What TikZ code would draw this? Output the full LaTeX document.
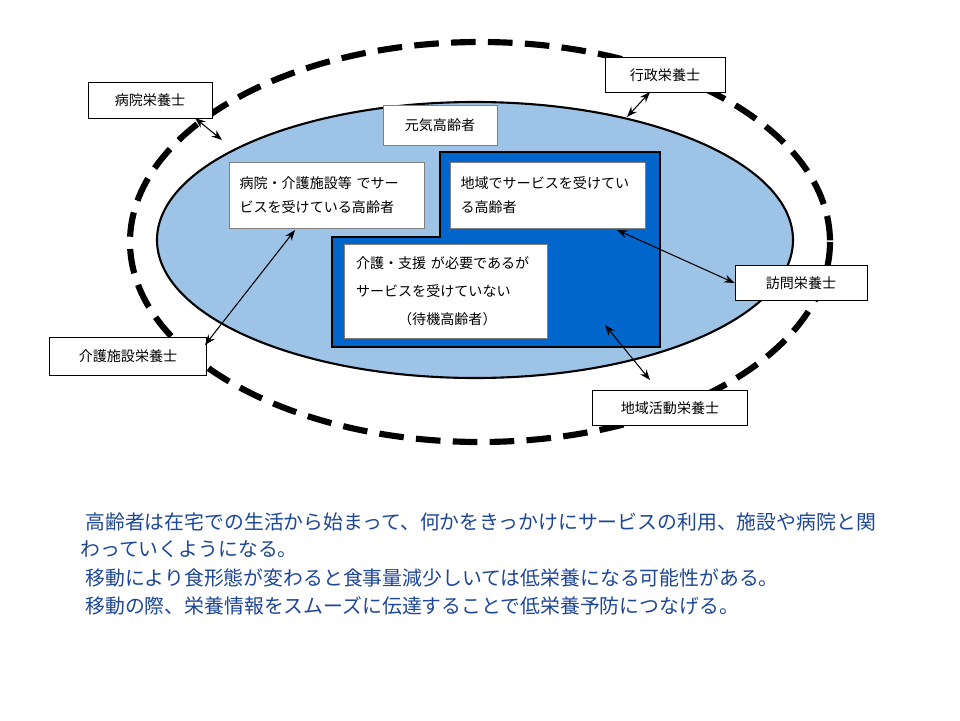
\documentclass[tikz,border=0pt]{standalone}
\usepackage{fontspec}
\setmainfont{Noto Sans CJK JP}
\usetikzlibrary{arrows.meta}
\definecolor{lightblue}{RGB}{157,195,230}
\definecolor{darkblue}{RGB}{0,102,204}
\definecolor{textblue}{RGB}{30,70,150}
\begin{document}
\begin{tikzpicture}[x=0.02cm,y=-0.02cm]
    \tikzstyle{whitebox}=[draw=gray, fill=white, inner sep=0pt, font=\fontsize{8}{14}\selectfont, align=left];
    \tikzstyle{role}=[draw=black, fill=white, thin, font=\fontsize{8}{10}\selectfont];
    \tikzstyle{link}=[{Stealth[length=6pt]}-{Stealth[length=6pt]}, semithick];
    \tikzstyle{note}=[anchor=west, inner sep=0pt, text=textblue, font=\fontsize{11.3}{14}\selectfont];

    \useasboundingbox (0,0) rectangle (960,720);

    % circles
    \draw[line width=3.5pt, dash pattern=on 14pt off 7pt] (480,242) ellipse [x radius=350, y radius=200];
    \draw[fill=lightblue, line width=1.2pt] (475,240) ellipse [x radius=318, y radius=138];
    \draw[fill=darkblue, line width=1.2pt] (440,152) -- (660,152) -- (660,347) -- (332,347) -- (332,237) -- (440,237) -- cycle;

    % groups
    \node[whitebox, minimum width=114*0.02cm, minimum height=40*0.02cm, align=center] (genki) at (440,125) {元気高齢者};
    \node[whitebox, minimum width=195*0.02cm, minimum height=66*0.02cm, text width=175*0.02cm] (hosp) at (327,195) {病院・介護施設等 でサー\\ビスを受けている高齢者};
    \node[whitebox, minimum width=195*0.02cm, minimum height=66*0.02cm, text width=175*0.02cm] (area) at (548,195) {地域でサービスを受けてい\\る高齢者};
    \node[whitebox, minimum width=203*0.02cm, minimum height=94*0.02cm, text width=180*0.02cm, font=\fontsize{8}{16}\selectfont] (wait) at (446,291) {介護・支援 が必要であるが\\サービスを受けていない\\\hspace*{3em}（待機高齢者）};

    % dietitians
    \node[role, minimum width=124*0.02cm, minimum height=36*0.02cm] (r1) at (150,100) {病院栄養士};
    \node[role, minimum width=120*0.02cm, minimum height=35*0.02cm] (r2) at (665,75) {行政栄養士};
    \node[role, minimum width=132*0.02cm, minimum height=35*0.02cm] (r3) at (801,283) {訪問栄養士};
    \node[role, minimum width=157*0.02cm, minimum height=38*0.02cm] (r4) at (128,356) {介護施設栄養士};
    \node[role, minimum width=155*0.02cm, minimum height=35*0.02cm] (r5) at (670,408) {地域活動栄養士};

    \coordinate (a1) at (195,118);
    \coordinate (c1) at (222,140);
    \coordinate (a2) at (650,92);
    \coordinate (c2) at (627,117);
    \coordinate (c3) at (617,230);
    \coordinate (a4) at (205,345);
    \coordinate (c4) at (295,230);
    \coordinate (a5) at (650,380);
    \coordinate (c5) at (605,325);

    \draw[link] (a1) -- (c1);
    \draw[link] (a2) -- (c2);
    \draw[link] (r3.west) -- (c3);
    \draw[link] (a4) -- (c4);
    \draw[link] (a5) -- (c5);

    % notes
    \node[note] (n1) at (85,522) {高齢者は在宅での生活から始まって、何かをきっかけにサービスの利用、施設や病院と関};
    \node[note] (n2) at (80,549) {わっていくようになる。};
    \node[note] (n3) at (85,578) {移動により食形態が変わると食事量減少しいては低栄養になる可能性がある。};
    \node[note] (n4) at (85,606) {移動の際、栄養情報をスムーズに伝達することで低栄養予防につなげる。};
\end{tikzpicture}
\end{document}
